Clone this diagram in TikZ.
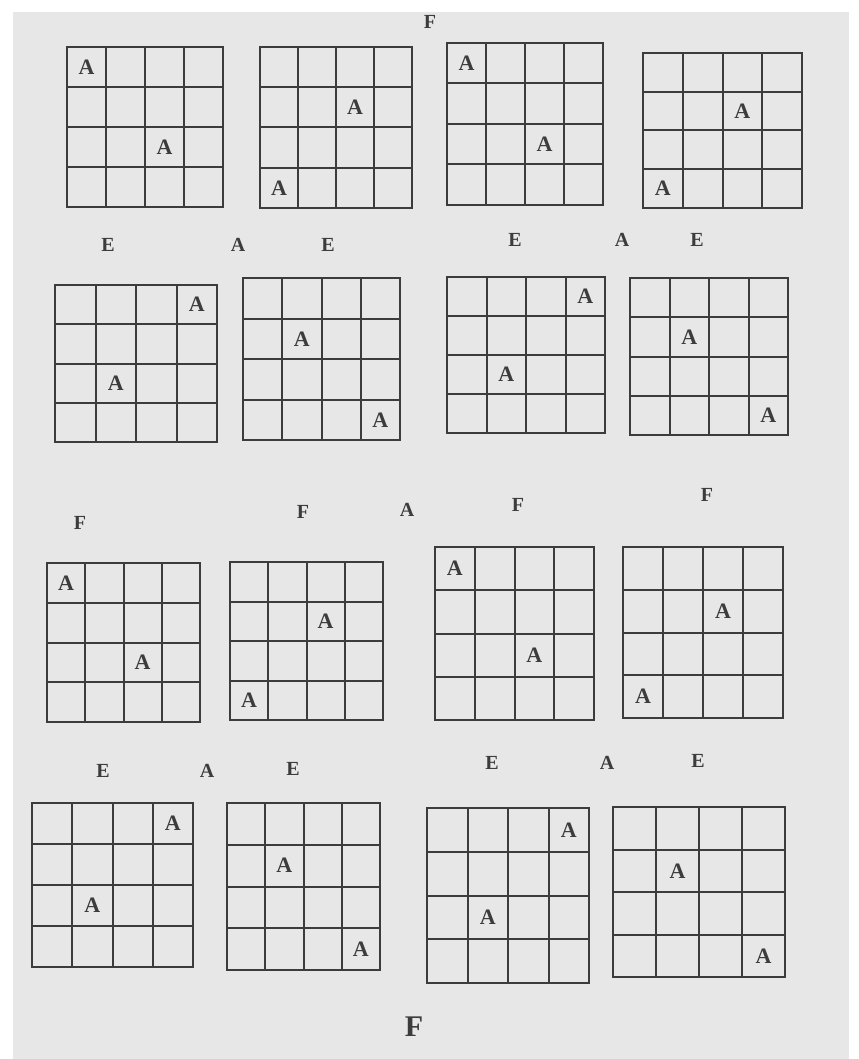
\documentclass[tikz,border=0pt]{standalone}
\usepackage{fontspec}
\setmainfont{Liberation Serif}
\definecolor{paper}{HTML}{E7E7E7}
\definecolor{ink}{HTML}{3C3C3C}
\tikzset{
  gridline/.style={draw=ink, line width=1pt},
  cellA/.style={text=ink, font=\fontsize{11}{12}\selectfont\bfseries, inner sep=0pt},
  lbl/.style={text=ink, font=\fontsize{10}{12}\selectfont\bfseries, inner sep=0pt},
  biglbl/.style={text=ink, font=\fontsize{15}{16}\selectfont\bfseries, inner sep=0pt}
}
% #1 name, #2 x0, #3 y0, #4 x1, #5 y1, #6 list of col/row of A
\newcommand\pgrid[6]{%
  \draw[gridline] (#2,#3) coordinate (#1-nw) rectangle (#4,#5) coordinate (#1-se);
  \foreach \i in {1,2,3} {
    \draw[gridline] ({#2+(#4-#2)*\i/4},#3) -- ({#2+(#4-#2)*\i/4},#5);
    \draw[gridline] (#2,{#3+(#5-#3)*\i/4}) -- (#4,{#3+(#5-#3)*\i/4});
  }
  \foreach \c/\r in {#6} {
    \node[cellA] (#1-\c-\r) at ({#2+(#4-#2)*(\c-0.5)/4},{#3+(#5-#3)*(\r-0.5)/4}) {A};
  }
}
\begin{document}
\begin{tikzpicture}[x=0.5pt,y=-0.5pt]
\useasboundingbox (0,0) rectangle (858,1059);
\fill[white] (0,0) rectangle (858,1059);
\fill[paper] (13,12) rectangle (849,1059);
% row 1
\pgrid{g1}{67}{47}{223}{207}{1/1,3/3}
\pgrid{g2}{260}{47}{412}{208}{3/2,1/4}
\pgrid{g3}{447}{43}{603}{205}{1/1,3/3}
\pgrid{g4}{643}{53}{802}{208}{3/2,1/4}
% row 2
\pgrid{g5}{55}{285}{217}{442}{4/1,2/3}
\pgrid{g6}{243}{278}{400}{440}{2/2,4/4}
\pgrid{g7}{447}{277}{605}{433}{4/1,2/3}
\pgrid{g8}{630}{278}{788}{435}{2/2,4/4}
% row 3
\pgrid{g9}{47}{563}{200}{722}{1/1,3/3}
\pgrid{g10}{230}{562}{383}{720}{3/2,1/4}
\pgrid{g11}{435}{547}{594}{720}{1/1,3/3}
\pgrid{g12}{623}{547}{783}{718}{3/2,1/4}
% row 4
\pgrid{g13}{32}{803}{193}{967}{4/1,2/3}
\pgrid{g14}{227}{803}{380}{970}{2/2,4/4}
\pgrid{g15}{427}{808}{589}{983}{4/1,2/3}
\pgrid{g16}{613}{807}{785}{977}{2/2,4/4}
% labels
\node[lbl] (ftop) at (430,22) {F};
\node[lbl] (l1) at (108,245) {E};
\node[lbl] (l2) at (238,245) {A};
\node[lbl] (l3) at (328,245) {E};
\node[lbl] (l4) at (515,240) {E};
\node[lbl] (l5) at (622,240) {A};
\node[lbl] (l6) at (697,240) {E};
\node[lbl] (m1) at (80,523) {F};
\node[lbl] (m2) at (303,512) {F};
\node[lbl] (m3) at (407,510) {A};
\node[lbl] (m4) at (518,505) {F};
\node[lbl] (m5) at (707,495) {F};
\node[lbl] (n1) at (103,771) {E};
\node[lbl] (n2) at (207,771) {A};
\node[lbl] (n3) at (293,769) {E};
\node[lbl] (n4) at (492,763) {E};
\node[lbl] (n5) at (607,763) {A};
\node[lbl] (n6) at (698,761) {E};
\node[biglbl] (fbot) at (414,1027) {F};
\end{tikzpicture}
\end{document}
